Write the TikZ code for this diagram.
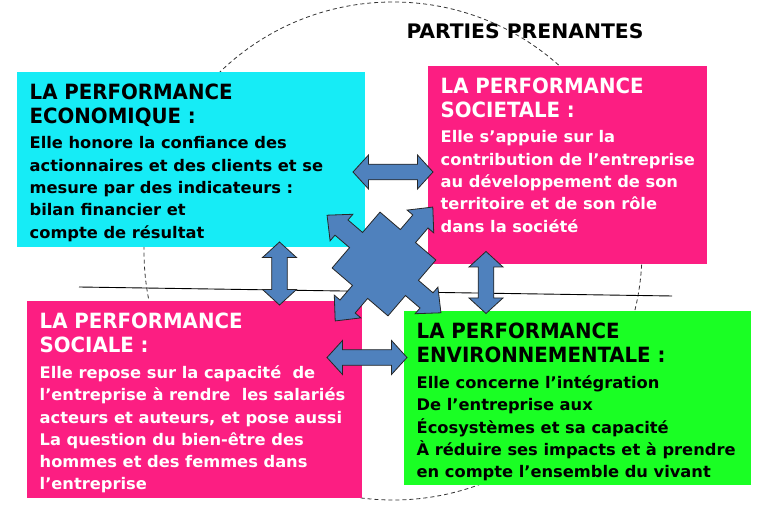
\documentclass[tikz,border=0pt]{standalone}
\usepackage{fontspec}
\newfontfamily\headfamily{DejaVu Sans Condensed Bold}[FakeStretch=1.045]
\newfontfamily\bodyfamily{DejaVu Sans Condensed Bold}[FakeStretch=1.13]
\definecolor{ecocyan}{RGB}{22,236,246}
\definecolor{socpink}{RGB}{252,30,130}
\definecolor{envgreen}{RGB}{26,255,36}
\definecolor{arrowblue}{RGB}{79,129,189}
\newcommand{\padx}{12.5}
\newcommand{\headdrop}{11.5}
\newcommand{\bodydrop}{64.5}
\newcommand{\headlen}{15.5}
\newcommand{\headhalf}{17}
\newcommand{\shafthalf}{7.8}

\begin{document}
\begin{tikzpicture}[x=1pt, y=1pt,
    panel/.style={anchor=south west, inner sep=0pt, outer sep=0pt},
    boxtext/.style={anchor=north west, inner sep=0pt, align=left},
    headfont/.style={font=\headfamily\fontsize{21}{24.5}\selectfont},
    bodyfont/.style={font=\bodyfamily\fontsize{16}{22.3}\selectfont},
    blockarrow/.style={fill=arrowblue, draw=black!85, line width=0.8pt, line join=miter},
    pics/twoway/.style={code={
        \draw[blockarrow] (-#1,0) -- (-#1+\headlen,\headhalf) -- (-#1+\headlen,\shafthalf)
            -- (#1-\headlen,\shafthalf) -- (#1-\headlen,\headhalf) -- (#1,0)
            -- (#1-\headlen,-\headhalf) -- (#1-\headlen,-\shafthalf)
            -- (-#1+\headlen,-\shafthalf) -- (-#1+\headlen,-\headhalf) -- cycle;}}]
    \useasboundingbox (0,0) rectangle (768,505);

    % stakeholders ring and axis
    \draw[black!80, line width=0.8pt, dash pattern=on 4pt off 3pt] (393,254) circle[radius=249];
    \draw[black, line width=0.9pt] (79,218) -- (672,209);
    \node[font=\bodyfamily\fontsize{20}{22}\selectfont] (title) at (525,474) {PARTIES PRENANTES};

    % boxes
    \node[panel, fill=ecocyan, minimum width=348, minimum height=175] (ecobox) at (17,258) {};
    \node[panel, fill=socpink, minimum width=279, minimum height=198] (sctbox) at (428,241) {};
    \node[panel, fill=socpink, minimum width=335, minimum height=197] (socbox) at (27,7) {};
    \node[panel, fill=envgreen, minimum width=347, minimum height=174] (envbox) at (404,20) {};

    % labels
    \node[boxtext, headfont] (ecohead) at ([xshift=\padx, yshift=-\headdrop]ecobox.north west)
        {LA PERFORMANCE\\ECONOMIQUE :};
    \node[boxtext, bodyfont] (ecobody) at ([xshift=\padx, yshift=-\bodydrop]ecobox.north west)
        {Elle honore la confiance des\\actionnaires et des clients et se\\mesure par des indicateurs :\\bilan financier et\\compte de résultat};
    \node[boxtext, headfont, white] (scthead) at ([xshift=\padx, yshift=-\headdrop]sctbox.north west)
        {LA PERFORMANCE\\SOCIETALE :};
    \node[boxtext, bodyfont, white] (sctbody) at ([xshift=\padx, yshift=-\bodydrop]sctbox.north west)
        {Elle s’appuie sur la\\contribution de l’entreprise\\au développement de son\\territoire et de son rôle\\dans la société};
    \node[boxtext, headfont, white] (sochead) at ([xshift=\padx, yshift=-\headdrop]socbox.north west)
        {LA PERFORMANCE\\SOCIALE :};
    \node[boxtext, bodyfont, white] (socbody) at ([xshift=\padx, yshift=-\bodydrop]socbox.north west)
        {Elle repose sur la capacité\ \ de\\l’entreprise à rendre\ \ les salariés\\acteurs et auteurs, et pose aussi\\La question du bien-être des\\hommes et des femmes dans\\l’entreprise};
    \node[boxtext, headfont] (envhead) at ([xshift=\padx, yshift=-\headdrop]envbox.north west)
        {LA PERFORMANCE\\ENVIRONNEMENTALE :};
    \node[boxtext, bodyfont] (envbody) at ([xshift=\padx, yshift=-\bodydrop]envbox.north west)
        {Elle concerne l’intégration\\De l’entreprise aux\\Écosystèmes et sa capacité\\À réduire ses impacts et à prendre\\en compte l’ensemble du vivant};

    % links
    \pic (toplink) at (393,333) {twoway=40};
    \pic (lowlink) at (367,147.5) {twoway=40};
    \pic[rotate=90] (leftlink) at (279.5,231.5) {twoway=31.5};
    \pic[rotate=90] (rightlink) at (486,222.5) {twoway=31};

    % centre quad arrow
    \begin{scope}[shift={(384,241)}, rotate=49.4]
        \draw[blockarrow] (36.8,-36.8) \foreach \r in {0,90,180,270}{
            -- ([rotate=\r]36.8,-10) -- ([rotate=\r]56,-10) -- ([rotate=\r]56,-17.5)
            -- ([rotate=\r]75,0) -- ([rotate=\r]56,17.5) -- ([rotate=\r]56,10)
            -- ([rotate=\r]36.8,10) -- ([rotate=\r]36.8,36.8)} -- cycle;
    \end{scope}
\end{tikzpicture}
\end{document}
